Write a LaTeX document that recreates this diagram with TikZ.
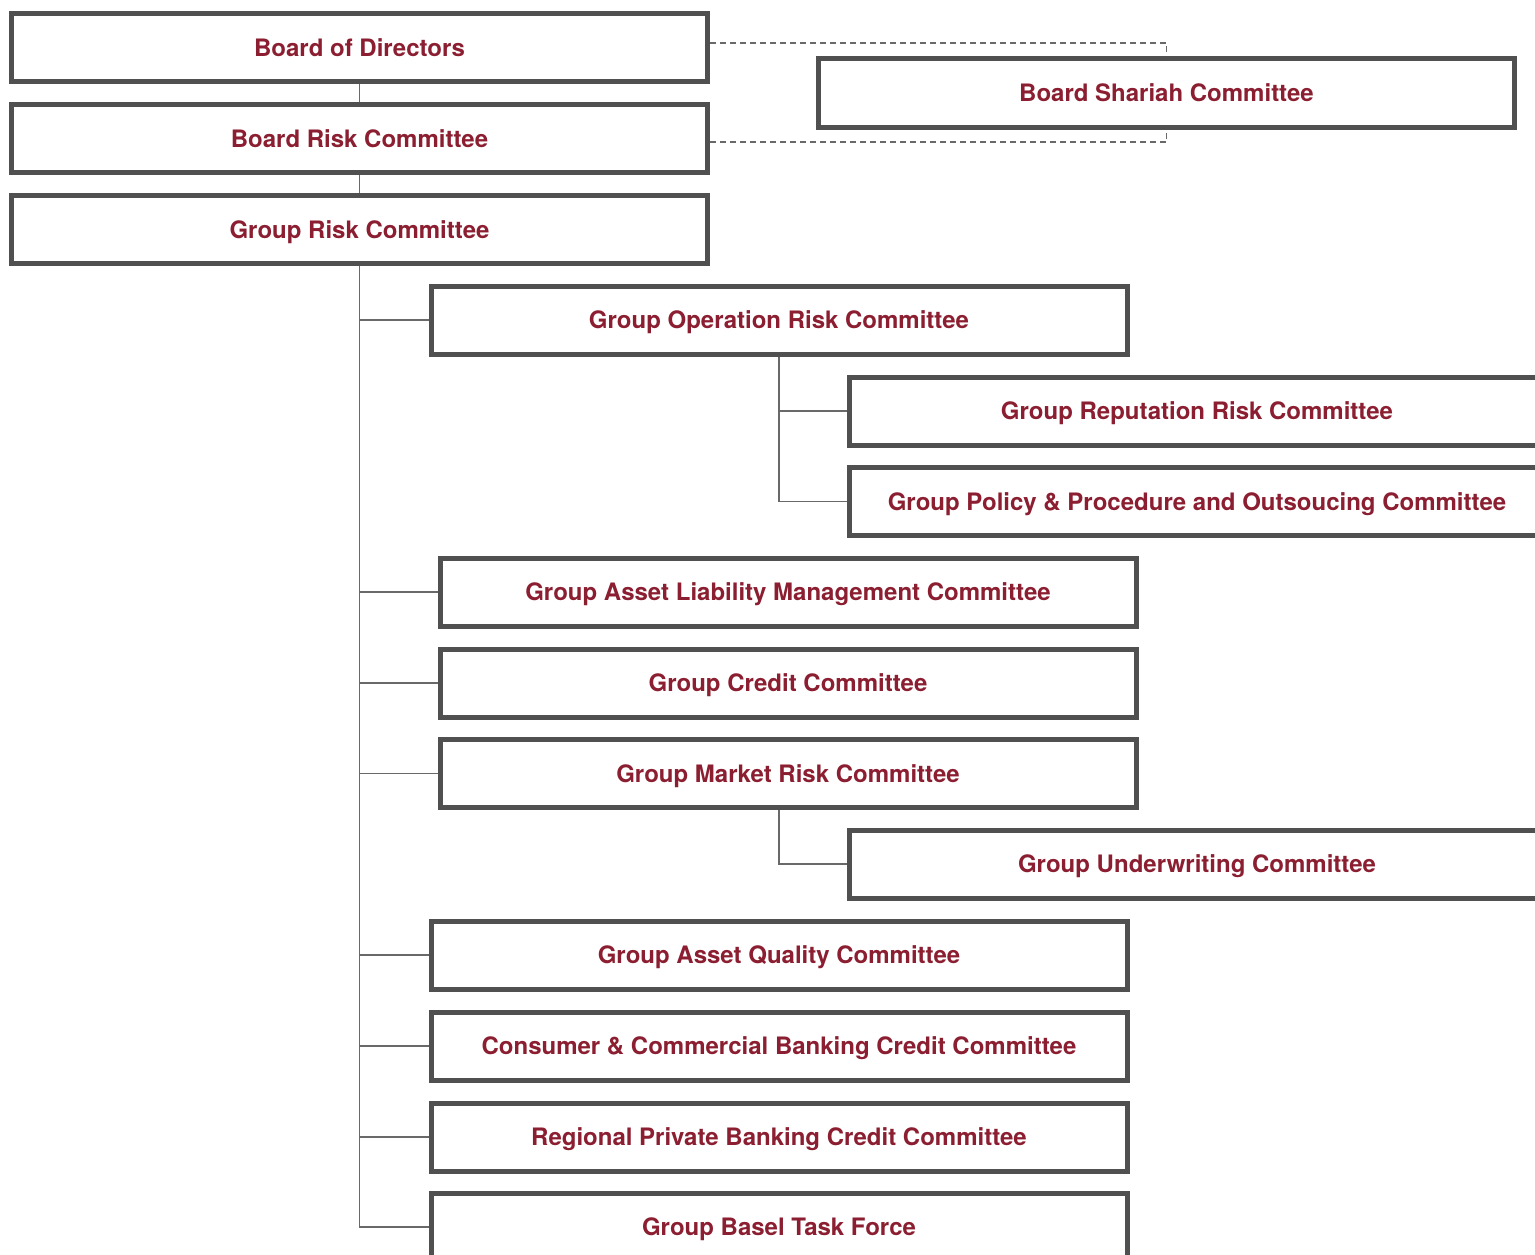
\documentclass[tikz,border=0pt]{standalone}
\usepackage{fontspec}
\setmainfont{TeX Gyre Heros}
\definecolor{boxred}{RGB}{139,30,48}
\definecolor{boxgray}{RGB}{80,80,80}
\definecolor{linegray}{RGB}{105,105,105}
\begin{document}
\begin{tikzpicture}[x=1pt,y=-1pt,
  cbox/.style={draw=boxgray, line width=5pt, fill=white, minimum width=696pt,
    minimum height=68pt, inner sep=0pt, outer sep=0pt, text=boxred,
    text height=17.5pt, text depth=0pt,
    font=\fontsize{24}{28}\selectfont\bfseries},
  link/.style={draw=linegray, line width=1.2pt, shorten <=2.5pt, shorten >=2.5pt},
  dlink/.style={draw=linegray, line width=1.2pt, dash pattern=on 6pt off 4pt,
    shorten <=2.5pt, shorten >=2.5pt}]
\useasboundingbox (0,0) rectangle (1535,1255);
\clip (0,0) rectangle (1535,1255);

\node[cbox] (bod) at (359.5,47.5) {Board of Directors};
\node[cbox] (brc) at (359.5,138.5) {Board Risk Committee};
\node[cbox] (grc) at (359.5,229.5) {Group Risk Committee};
\node[cbox] (shariah) at (1166.5,93) {Board Shariah Committee};
\node[cbox] (gorc) at (779,320) {Group Operation Risk Committee};
\node[cbox] (grep) at (1197,411) {Group Reputation Risk Committee};
\node[cbox] (gpol) at (1197,501.5) {Group Policy \& Procedure and Outsoucing Committee};
\node[cbox] (galmc) at (788,592) {Group Asset Liability Management Committee};
\node[cbox] (gcc) at (788,683) {Group Credit Committee};
\node[cbox] (gmrc) at (788,773.5) {Group Market Risk Committee};
\node[cbox] (guw) at (1197,864) {Group Underwriting Committee};
\node[cbox] (gaqc) at (779,955) {Group Asset Quality Committee};
\node[cbox] (ccb) at (779,1046) {Consumer \& Commercial Banking Credit Committee};
\node[cbox] (rpb) at (779,1137) {Regional Private Banking Credit Committee};
\node[cbox] (basel) at (779,1227) {Group Basel Task Force};

% main trunk
\draw[link] (bod.south) -- (brc.north);
\draw[link] (brc.south) -- (grc.north);
\foreach \n in {gorc,galmc,gcc,gmrc,gaqc,ccb,rpb,basel}
  \draw[link] (grc.south) |- (\n.west);

% sub trunks
\draw[link] (gorc.south) |- (grep.west);
\draw[link] (gorc.south) |- (gpol.west);
\coordinate (gmrcdrop) at ([xshift=-9pt]gmrc.south);
\draw[link] (gmrcdrop) |- (guw.west);

% dashed links to Shariah
\draw[dlink] ([yshift=4.5pt]bod.east) -| (shariah.north);
\draw[dlink] ([yshift=-3.5pt]brc.east) -| (shariah.south);
\end{tikzpicture}
\end{document}
